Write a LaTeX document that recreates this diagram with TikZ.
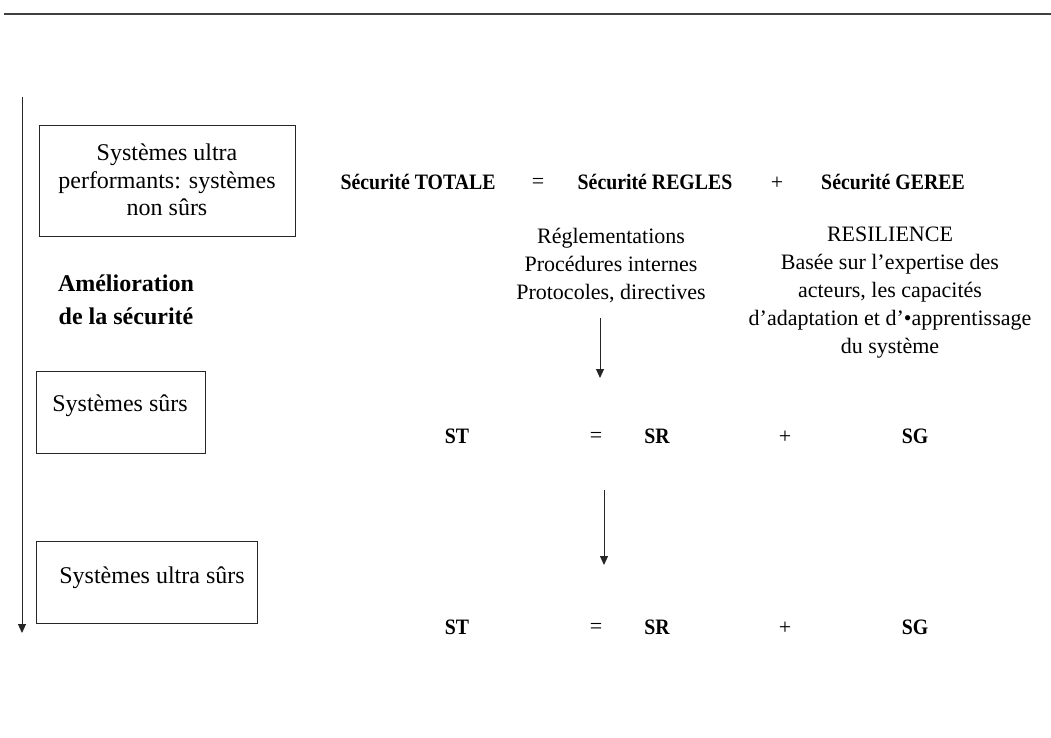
\documentclass[tikz,border=0pt]{standalone}
\usepackage{fontspec}
\setmainfont{Liberation Serif}
\newfontfamily\condfont[FakeStretch=0.9]{Liberation Serif}
\usetikzlibrary{arrows.meta}
\usetikzlibrary{positioning}

\begin{document}
\begin{tikzpicture}[x=1pt,y=-1pt,
    font=\fontsize{22}{28}\selectfont,
    % styles
    sys box/.style={draw=black!85,line width=1pt,inner sep=0pt},
    box text/.style={font=\fontsize{24}{27.5}\selectfont,align=center,inner sep=0pt},
    bold text/.style={font=\fontsize{24}{33}\selectfont\bfseries,align=center,inner sep=0pt},
    eq text/.style={font=\fontsize{22}{26}\selectfont\condfont\bfseries,inner sep=0pt},
    op text/.style={font=\fontsize{22}{26}\selectfont,inner sep=0pt},
    list text/.style={align=center,inner sep=0pt},
    rule line/.style={black!75,line width=2pt},
    down arrow/.style={black!85,line width=1pt,-{Triangle[width=8pt,length=9pt]}}]

  \useasboundingbox (0,0) rectangle (1051,737);

  % top rule
  \draw[rule line] (4,14) -- (1051,14);

  % axis
  \coordinate (axis top) at (22,97);
  \coordinate (axis end) at (22,633);
  \draw[down arrow] (axis top) -- (axis end);

  % systems
  \node[sys box,minimum width=256,minimum height=111] (box perf) at (167,180.5) {};
  \node[box text] (perf) at (167,180) {Systèmes ultra\\performants: systèmes\\non sûrs};
  \node[bold text] (amelio) at (126,300) {Amélioration\\de la sécurité};
  \node[sys box,minimum width=169,minimum height=82] (box surs) at (120.5,412) {};
  \node[box text] (surs) at (120,406) {Systèmes sûrs};
  \node[sys box,minimum width=221,minimum height=82] (box ultra) at (146.5,582) {};
  \node[box text] (ultra) at (152,578) {Systèmes ultra sûrs};

  % main equation
  \node[eq text] (totale) at (418,182) {Sécurité TOTALE};
  \node[op text] (eq0) at (538,183) {=};
  \node[eq text] (regles) at (655,182) {Sécurité REGLES};
  \node[op text] (plus0) at (777,183) {+};
  \node[eq text] (geree) at (893,182) {Sécurité GEREE};

  % contents
  \node[list text] (regl) at (611,266) {Réglementations\\Procédures internes\\Protocoles, directives};
  \node[list text] (resil) at (890,293) {RESILIENCE\\Basée sur l’expertise des\\acteurs, les capacités\\d’adaptation et d’•apprentissage\\du système};

  % first step
  \coordinate (step1 top) at (600,318);
  \coordinate (step1 end) at (600,378);
  \draw[down arrow] (step1 top) -- (step1 end);

  \node[eq text] (st1) at (457,436) {ST};
  \node[op text] (eq1) at (596,437) {=};
  \node[eq text] (sr1) at (657,436) {SR};
  \node[op text] (plus1) at (785,437) {+};
  \node[eq text] (sg1) at (915,436) {SG};

  % second step
  \coordinate (step2 top) at (604,490);
  \coordinate (step2 end) at (604,565);
  \draw[down arrow] (step2 top) -- (step2 end);

  \node[eq text] (st2) at (457,627) {ST};
  \node[op text] (eq2) at (596,628) {=};
  \node[eq text] (sr2) at (657,627) {SR};
  \node[op text] (plus2) at (785,628) {+};
  \node[eq text] (sg2) at (915,627) {SG};

\end{tikzpicture}
\end{document}
